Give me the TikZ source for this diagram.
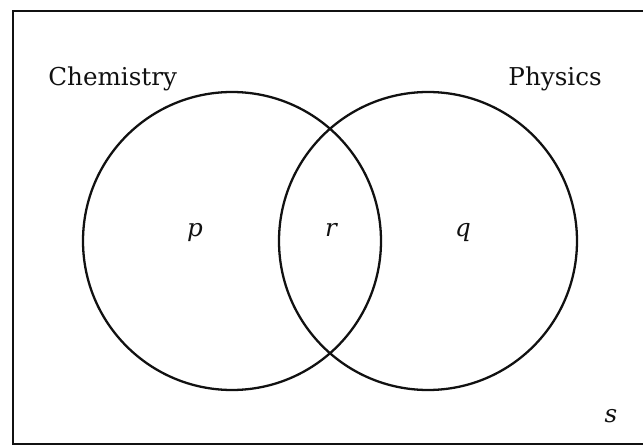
\documentclass[tikz,border=0pt]{standalone}
\usepackage{fontspec}
\setmainfont{DejaVu Serif}
\usepackage{xcolor}
\definecolor{inkblack}{HTML}{111111}

\begin{document}
\begin{tikzpicture}[x=0.02cm,y=-0.02cm,
    setline/.style={inkblack,line width=1.3pt},
    setlbl/.style={font=\fontsize{14}{16}\selectfont,color=inkblack,inner sep=0pt},
    eltlbl/.style={font=\fontsize{14}{16}\selectfont\itshape,color=inkblack,inner sep=0pt,anchor=base}]
        \useasboundingbox(0,0)rectangle(643,446);
        \draw[inkblack,line width=1.6pt](13,11)rectangle(650,444);
        \coordinate(chemc)at(232,241);
        \coordinate(physc)at(428,241);
        \draw[setline](chemc)circle[radius=149];
        \draw[setline](physc)circle[radius=149];
        \node[setlbl,anchor=base west](chem)at(48,86){Chemistry};
        \node[setlbl,anchor=base east](phys)at(602,86){Physics};
        \foreach \nm/\x/\y in {p/195/236,r/331/236,q/463/236,s/611/422}{
          \node[eltlbl](\nm)at(\x,\y){\nm};}
      \end{tikzpicture}
\end{document}
